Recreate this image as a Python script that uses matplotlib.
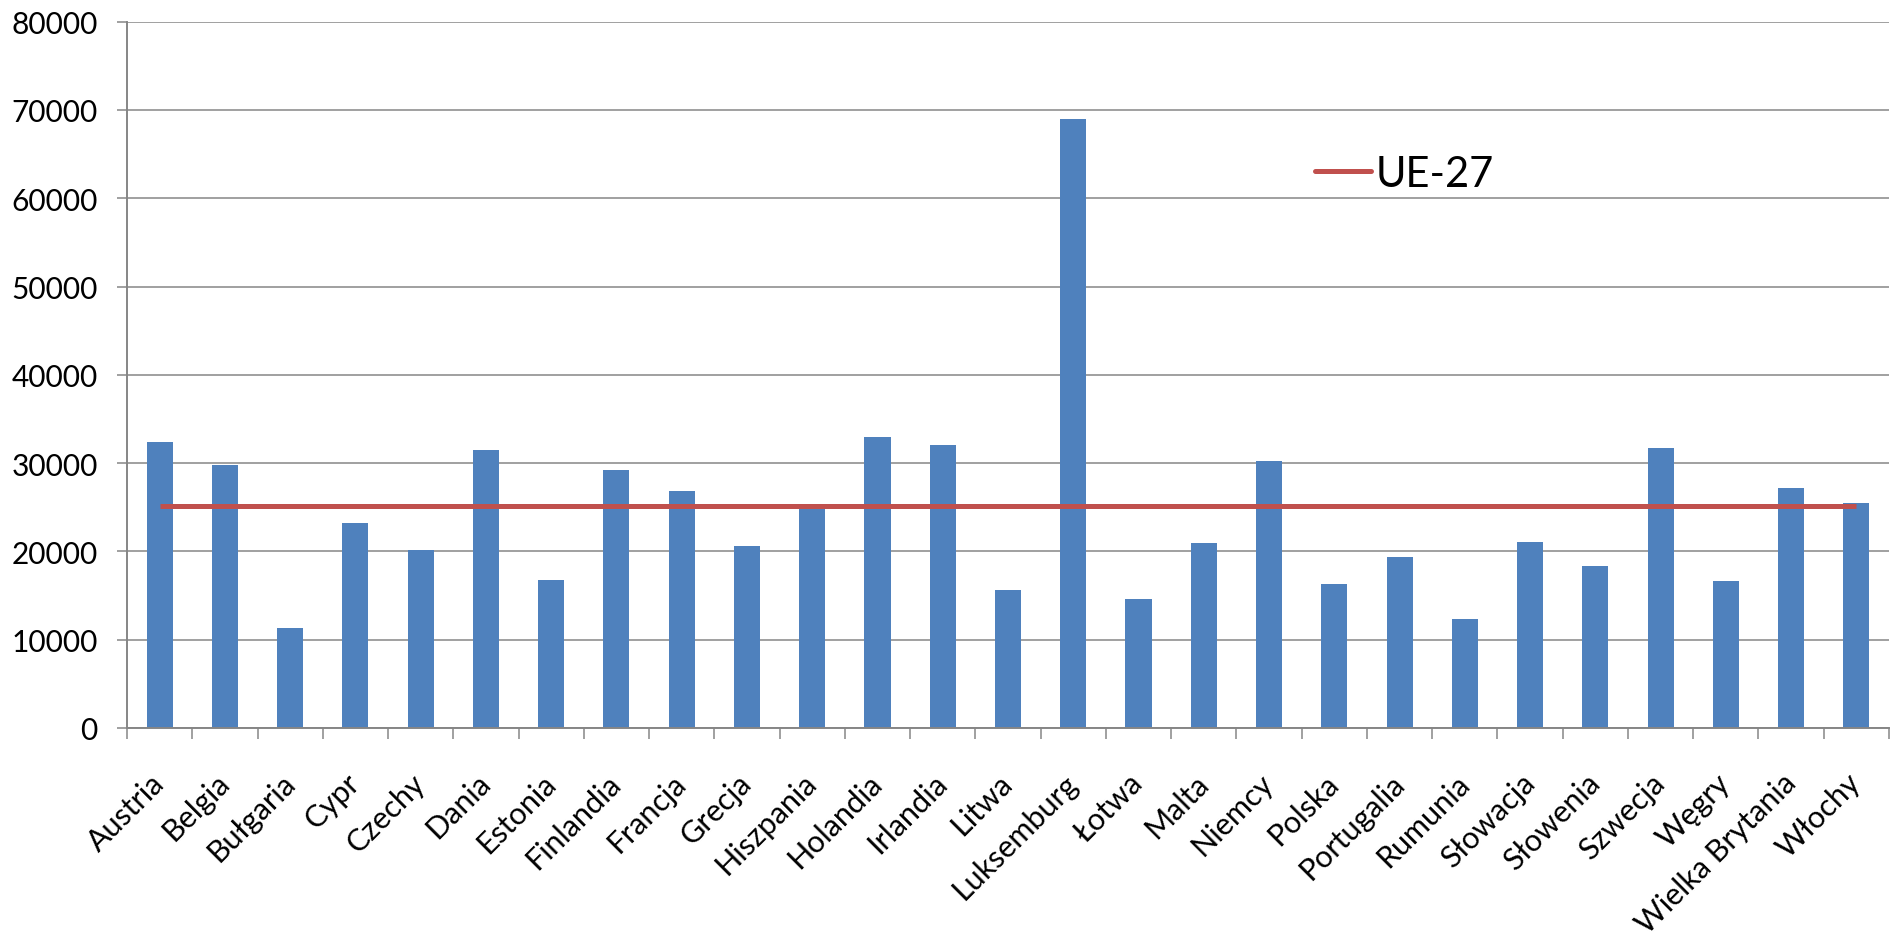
import numpy as np
import matplotlib
matplotlib.use("Agg")
import matplotlib.pyplot as plt

plt.rcParams['font.family'] = ['Lato', 'DejaVu Sans']

# Kraje UE i wartości
kraje = ['Austria', 'Belgia', 'Bułgaria', 'Cypr', 'Czechy', 'Dania', 'Estonia',
         'Finlandia', 'Francja', 'Grecja', 'Hiszpania', 'Holandia', 'Irlandia',
         'Litwa', 'Luksemburg', 'Łotwa', 'Malta', 'Niemcy', 'Polska',
         'Portugalia', 'Rumunia', 'Słowacja', 'Słowenia', 'Szwecja', 'Węgry',
         'Wielka Brytania', 'Włochy']
wartosci = [32400, 29750, 11300, 23200, 20200, 31450, 16800,
            29200, 26900, 20650, 25050, 33000, 32000,
            15650, 69000, 14600, 20900, 30250, 16300,
            19400, 12300, 21100, 18350, 31750, 16600,
            27200, 25450]
ue27 = [25150] * len(kraje)

y_ticks = [0, 10000, 20000, 30000, 40000, 50000, 60000, 70000, 80000]

grey = '#868686'

fig = plt.figure(figsize=(18.94, 9.45), dpi=100)
ax = fig.add_axes([127 / 1894, 1 - 729 / 945, (1889 - 127) / 1894, (729 - 22.7) / 945])

x = np.arange(len(kraje))
ax.bar(x, wartosci, width=0.4, color='#4F81BD', zorder=2)
ax.plot(x, ue27, color='#C0504D', lw=3.6, solid_capstyle='butt', zorder=3, label='UE-27')

ax.set_xlim(-0.5, len(kraje) - 0.5)
ax.set_ylim(0, 80000)
ax.set_yticks(y_ticks)
ax.set_yticklabels([str(v) for v in y_ticks], fontsize=21.5)
ax.yaxis.grid(True, color=grey, lw=1.1, zorder=0)
ax.tick_params(axis='y', length=7, width=1.1, color=grey, pad=14)

# etykiety kategorii obrócone o 45 stopni, kreski na granicach kategorii
ax.set_xticks(x)
ax.set_xticklabels(kraje, fontsize=22, rotation=45, ha='right', va='center',
                   rotation_mode='anchor')
ax.tick_params(axis='x', which='major', length=0, pad=36)
ax.set_xticks(np.arange(-0.5, len(kraje)), minor=True)
ax.tick_params(axis='x', which='minor', length=8, width=1.1, color=grey)

for s in ['top', 'right']:
    ax.spines[s].set_visible(False)
for s in ['left', 'bottom']:
    ax.spines[s].set_color(grey)
    ax.spines[s].set_linewidth(1.4)

leg = fig.legend(loc='center left', bbox_to_anchor=(1315 / 1894, 1 - 175 / 945),
                 frameon=False, fontsize=30, handlelength=1.35, handletextpad=0.1,
                 borderpad=0, borderaxespad=0)
for h in leg.get_lines():
    h.set_solid_capstyle('round')

fig.savefig('out.png', dpi=100)
